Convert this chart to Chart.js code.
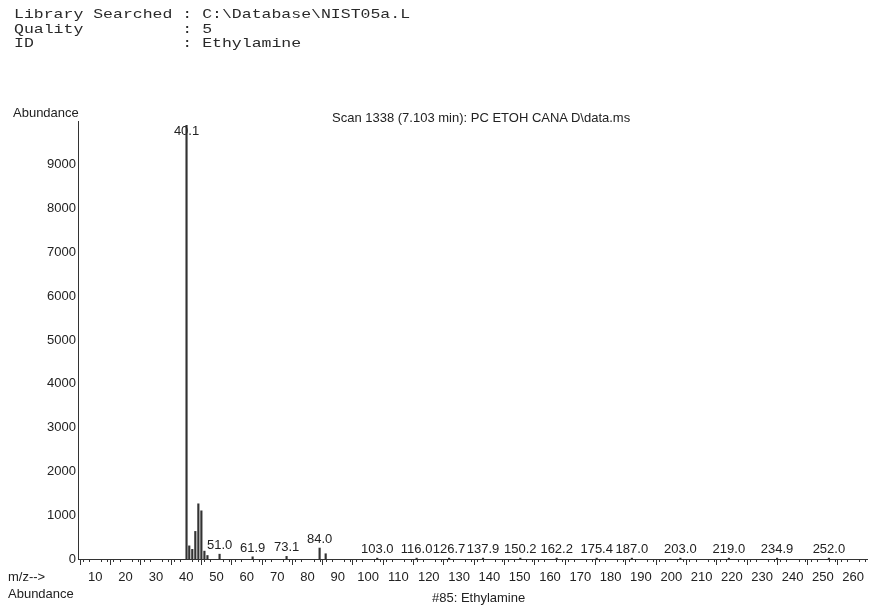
<!DOCTYPE html>
<html>
<head>
<meta charset="utf-8">
<script src="https://cdn.jsdelivr.net/npm/chart.js@4.4.1/dist/chart.umd.min.js"></script>
<style>
  html, body { margin: 0; padding: 0; background: #fff; }
  #wrap { position: relative; width: 869px; height: 607px; overflow: hidden; }
  #c { position: absolute; left: 0; top: 0; }
  .mono { position: absolute; font-family: "Liberation Mono", "DejaVu Sans Mono", monospace; font-size: 16.5px; line-height: 1; color: #2a2a2a; white-space: pre; transform: scale(1, 0.82); transform-origin: 0 0; }
  .sans { position: absolute; font-family: "Liberation Sans", Arial, sans-serif; font-size: 13px; line-height: 1; color: #222; white-space: pre; }
</style>
</head>
<body>
<div id="wrap">
  <canvas id="c" width="869" height="607"></canvas>
  <div class="mono" style="left:14px; top:8px;">Library Searched : C:\Database\NIST05a.L</div>
  <div class="mono" style="left:14px; top:23px;">Quality          : 5</div>
  <div class="mono" style="left:14px; top:37px;">ID               : Ethylamine</div>
  <div class="sans" style="left:13px; top:106px;">Abundance</div>
  <div class="sans" style="left:332px; top:111px;">Scan 1338 (7.103 min): PC ETOH CANA D\data.ms</div>
  <div class="sans" style="left:8px; top:570px;">m/z--&gt;</div>
  <div class="sans" style="left:8px; top:587px;">Abundance</div>
  <div class="sans" style="left:432px; top:591px;">#85: Ethylamine</div>
</div>
<script>
// ---- data ----
const peakMz        = [40.1, 41, 42, 43, 44, 45, 46, 47, 51.0, 61.9, 73.1, 84.0, 86, 103.0, 116.0, 126.7, 137.9, 150.2, 162.2, 175.4, 187.0, 203.0, 219.0, 234.9, 252.0];
const peakAbundance = [9900, 300, 220, 630, 1260, 1100, 180, 80, 110, 50, 60, 250, 120, 20, 20, 20, 20, 20, 20, 20, 20, 20, 20, 20, 20];
const labeledMz     = [40.1, 51.0, 61.9, 73.1, 84.0, 103.0, 116.0, 126.7, 137.9, 150.2, 162.2, 175.4, 187.0, 203.0, 219.0, 234.9, 252.0];
const xTickValues   = [10, 20, 30, 40, 50, 60, 70, 80, 90, 100, 110, 120, 130, 140, 150, 160, 170, 180, 190, 200, 210, 220, 230, 240, 250, 260];
const yTickValues   = [0, 1000, 2000, 3000, 4000, 5000, 6000, 7000, 8000, 9000];
const xMin = 4.3, xMax = 264.6, yMax = 10000;

const FONT = { family: '"Liberation Sans", Arial, sans-serif', size: 13 };

const peakLabels = {
  id: 'peakLabels',
  afterDatasetsDraw(chart) {
    const { ctx, chartArea, scales: { x, y } } = chart;
    ctx.save();
    ctx.font = '13px "Liberation Sans", Arial, sans-serif';
    ctx.fillStyle = '#222';
    ctx.textAlign = 'center';
    ctx.textBaseline = 'bottom';
    labeledMz.forEach(m => {
      const i = peakMz.indexOf(m);
      const v = i >= 0 ? peakAbundance[i] : 0;
      let yb = y.getPixelForValue(v) - 2;
      if (yb < chartArea.top + 17) yb = chartArea.top + 17;
      ctx.fillText(m.toFixed(1), x.getPixelForValue(m), yb);
    });
    ctx.restore();
  }
};

const minorTicks = {
  id: 'minorTicks',
  afterDraw(chart) {
    const { ctx, chartArea, scales: { x } } = chart;
    ctx.save();
    ctx.strokeStyle = '#333';
    ctx.lineWidth = 1;
    ctx.beginPath();
    for (let v = 6; v <= 264; v += 2) {
      if (v % 10 === 0) continue;
      const px = Math.round(x.getPixelForValue(v)) + 0.5;
      ctx.moveTo(px, chartArea.bottom);
      ctx.lineTo(px, chartArea.bottom + 3);
    }
    ctx.stroke();
    ctx.restore();
  }
};

new Chart(document.getElementById('c'), {
  type: 'bar',
  data: {
    datasets: [{
      data: peakMz.map((m, i) => ({ x: m, y: peakAbundance[i] })),
      backgroundColor: '#333',
      borderWidth: 0,
      barThickness: 1.5
    }]
  },
  options: {
    responsive: false,
    animation: false,
    events: [],
    layout: { padding: { top: 121, left: 0, right: 0, bottom: 0 } },
    plugins: { legend: { display: false }, tooltip: { enabled: false }, title: { display: false } },
    scales: {
      x: {
        type: 'linear',
        min: xMin, max: xMax,
        offset: false,
        afterBuildTicks: s => { s.ticks = xTickValues.map(v => ({ value: v })); },
        afterFit: s => { s.height = 48; },
        grid: { drawOnChartArea: false, drawTicks: true, tickLength: 6, color: '#333' },
        border: { display: true, color: '#333', width: 1 },
        ticks: { font: FONT, color: '#222', padding: 5, maxRotation: 0, autoSkip: false,
                 callback: v => String(v) }
      },
      y: {
        min: 0, max: yMax,
        afterBuildTicks: s => { s.ticks = yTickValues.map(v => ({ value: v })); },
        afterFit: s => { s.width = 78; },
        grid: { display: false, drawTicks: false },
        border: { display: true, color: '#333', width: 1 },
        ticks: { font: FONT, color: '#222', padding: 2, callback: v => String(v) }
      }
    }
  },
  plugins: [peakLabels, minorTicks]
});
</script>
</body>
</html>
